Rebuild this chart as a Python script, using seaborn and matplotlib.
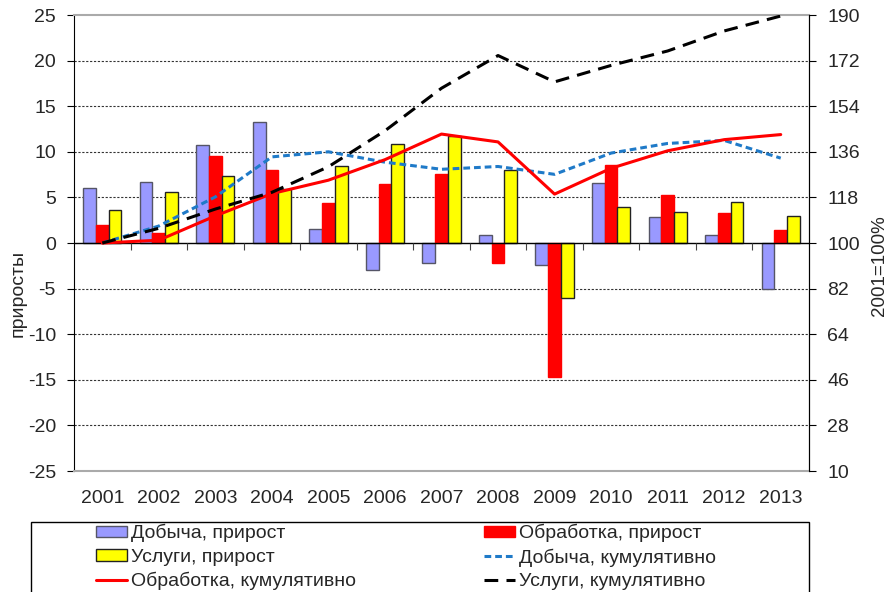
import matplotlib
matplotlib.use("Agg")
import matplotlib.pyplot as plt
import numpy as np
import pandas as pd
import seaborn as sns
from matplotlib.patches import Patch, Rectangle
from matplotlib.lines import Line2D

# data
years = ['2001', '2002', '2003', '2004', '2005', '2006', '2007',
         '2008', '2009', '2010', '2011', '2012', '2013']
mining_growth = [6.0, 6.7, 10.8, 13.3, 1.5, -3.0, -2.2, 0.9, -2.4, 6.6, 2.8, 0.9, -5.0]
manuf_growth = [2.0, 1.1, 9.5, 8.0, 4.4, 6.5, 7.6, -2.2, -14.7, 8.5, 5.3, 3.3, 1.4]
services_growth = [3.6, 5.6, 7.3, 5.9, 8.4, 10.9, 11.7, 8.0, -6.0, 4.0, 3.4, 4.5, 3.0]

mining_cum = [100, 106.7, 118.2, 134.0, 136.0, 131.9, 129.1, 130.2, 127.1, 135.5, 139.3, 140.5, 133.5]
manuf_cum = [100, 101.1, 110.7, 119.5, 124.8, 132.9, 143.0, 139.9, 119.3, 129.5, 136.4, 140.8, 142.8]
services_cum = [100, 105.8, 113.4, 120.0, 130.1, 144.3, 161.1, 174.0, 163.6, 170.1, 175.8, 183.7, 189.6]

bar_names = ['Добыча, прирост', 'Обработка, прирост', 'Услуги, прирост']
line_names = ['Добыча, кумулятивно', 'Обработка, кумулятивно', 'Услуги, кумулятивно']

bar_colors = ['#9999FF', '#FF0000', '#FFFF00']
bar_edges = ['#555566', '#FF0000', '#222222']
blue_dash = (0, (2.2, 1.3))
black_dash = (0, (4.5, 2.7))

sns.set_style("white")
plt.rcParams['font.family'] = ['Liberation Sans', 'DejaVu Sans']
plt.rcParams['axes.unicode_minus'] = False

bars_df = pd.DataFrame({
    'year': years * 3,
    'value': mining_growth + manuf_growth + services_growth,
    'series': [bar_names[0]] * 13 + [bar_names[1]] * 13 + [bar_names[2]] * 13,
})

fig = plt.figure(figsize=(8.87, 5.92), dpi=100)
ax = fig.add_axes([74 / 887, 1 - 471 / 592, 735 / 887, 456 / 592])

sns.barplot(data=bars_df, x='year', y='value', hue='series', palette=bar_colors,
            width=0.675, ax=ax, legend=False, saturation=1)
for cont, ec in zip(ax.containers, bar_edges):
    for p in cont:
        p.set_edgecolor(ec)
        p.set_linewidth(1.0)

ax.set_ylim(-25, 25)
ax.set_xlim(-0.5, 12.5)
ax.set_yticks(np.arange(-25, 26, 5))
for v in np.arange(-20, 21, 5):
    if v != 0:
        ax.axhline(v, color='#333333', linestyle=(0, (2, 1.5)), linewidth=0.8, zorder=0)
ax.axhline(0, color='black', linewidth=1.0, zorder=3)
# category tick marks on the zero line
ax.vlines(np.arange(0.5, 12.5, 1), -0.75, 0, color='#444444', linewidth=0.8, zorder=3)

ax.set_xlabel('')
ax.set_ylabel('приросты', fontsize=14)
ax.yaxis.set_label_coords(-47 / 735, 0.39)
ax.tick_params(axis='y', labelsize=14, length=5, pad=8, direction='out', left=True, color='black')
ax.tick_params(axis='x', labelsize=14, length=0, pad=14)
ax.spines['left'].set_color('black')
ax.spines['top'].set_color('#aaaaaa')
ax.spines['bottom'].set_color('#aaaaaa')
ax.spines['right'].set_color('black')
ax.spines['top'].set_linewidth(1.5)
ax.spines['bottom'].set_linewidth(1.5)

ax2 = ax.twinx()
xpos = np.arange(len(years))
sns.lineplot(x=xpos, y=mining_cum, ax=ax2, color='#1F7AC8', linewidth=2.2, linestyle=blue_dash)
sns.lineplot(x=xpos, y=manuf_cum, ax=ax2, color='#FF0000', linewidth=2.2)
sns.lineplot(x=xpos, y=services_cum, ax=ax2, color='black', linewidth=2.2, linestyle=black_dash)
ax2.set_ylim(10, 190)
ax2.set_yticks(np.arange(10, 191, 18))
ax2.set_xlim(-0.5, 12.5)
ax2.tick_params(axis='y', labelsize=14, length=5, pad=8, direction='out', right=True, color='black')
ax2.set_ylabel('2001=100%', fontsize=13.5)
ax2.yaxis.set_label_coords(1 + 62 / 735, 0.45)
for s in ['top', 'bottom', 'left']:
    ax2.spines[s].set_visible(False)
ax2.spines['right'].set_color('black')

handles = [
    Patch(facecolor=bar_colors[0], edgecolor=bar_edges[0], label=bar_names[0]),
    Patch(facecolor=bar_colors[2], edgecolor=bar_edges[2], label=bar_names[2]),
    Line2D([], [], color='#FF0000', linewidth=2.2, label=line_names[1]),
    Patch(facecolor=bar_colors[1], edgecolor=bar_edges[1], label=bar_names[1]),
    Line2D([], [], color='#1F7AC8', linewidth=2.2, linestyle=blue_dash, label=line_names[0]),
    Line2D([], [], color='black', linewidth=2.2, linestyle=black_dash, label=line_names[2]),
]
fig.legend(handles=handles, ncol=2, loc='upper left',
           bbox_to_anchor=(96 / 887, 1 - 524 / 592),
           fontsize=14, frameon=False,
           handlelength=1.6, handleheight=0.55, handletextpad=0.2,
           labelspacing=0.32, columnspacing=6.6,
           borderpad=0, borderaxespad=0)
# legend frame runs off the bottom edge as in the source
fig.patches.append(Rectangle((31 / 887, -0.05), (809 - 31) / 887, (592 - 522) / 592 + 0.05,
                             transform=fig.transFigure, fill=False,
                             edgecolor='black', linewidth=1.0))

fig.savefig('out.png', dpi=100)
